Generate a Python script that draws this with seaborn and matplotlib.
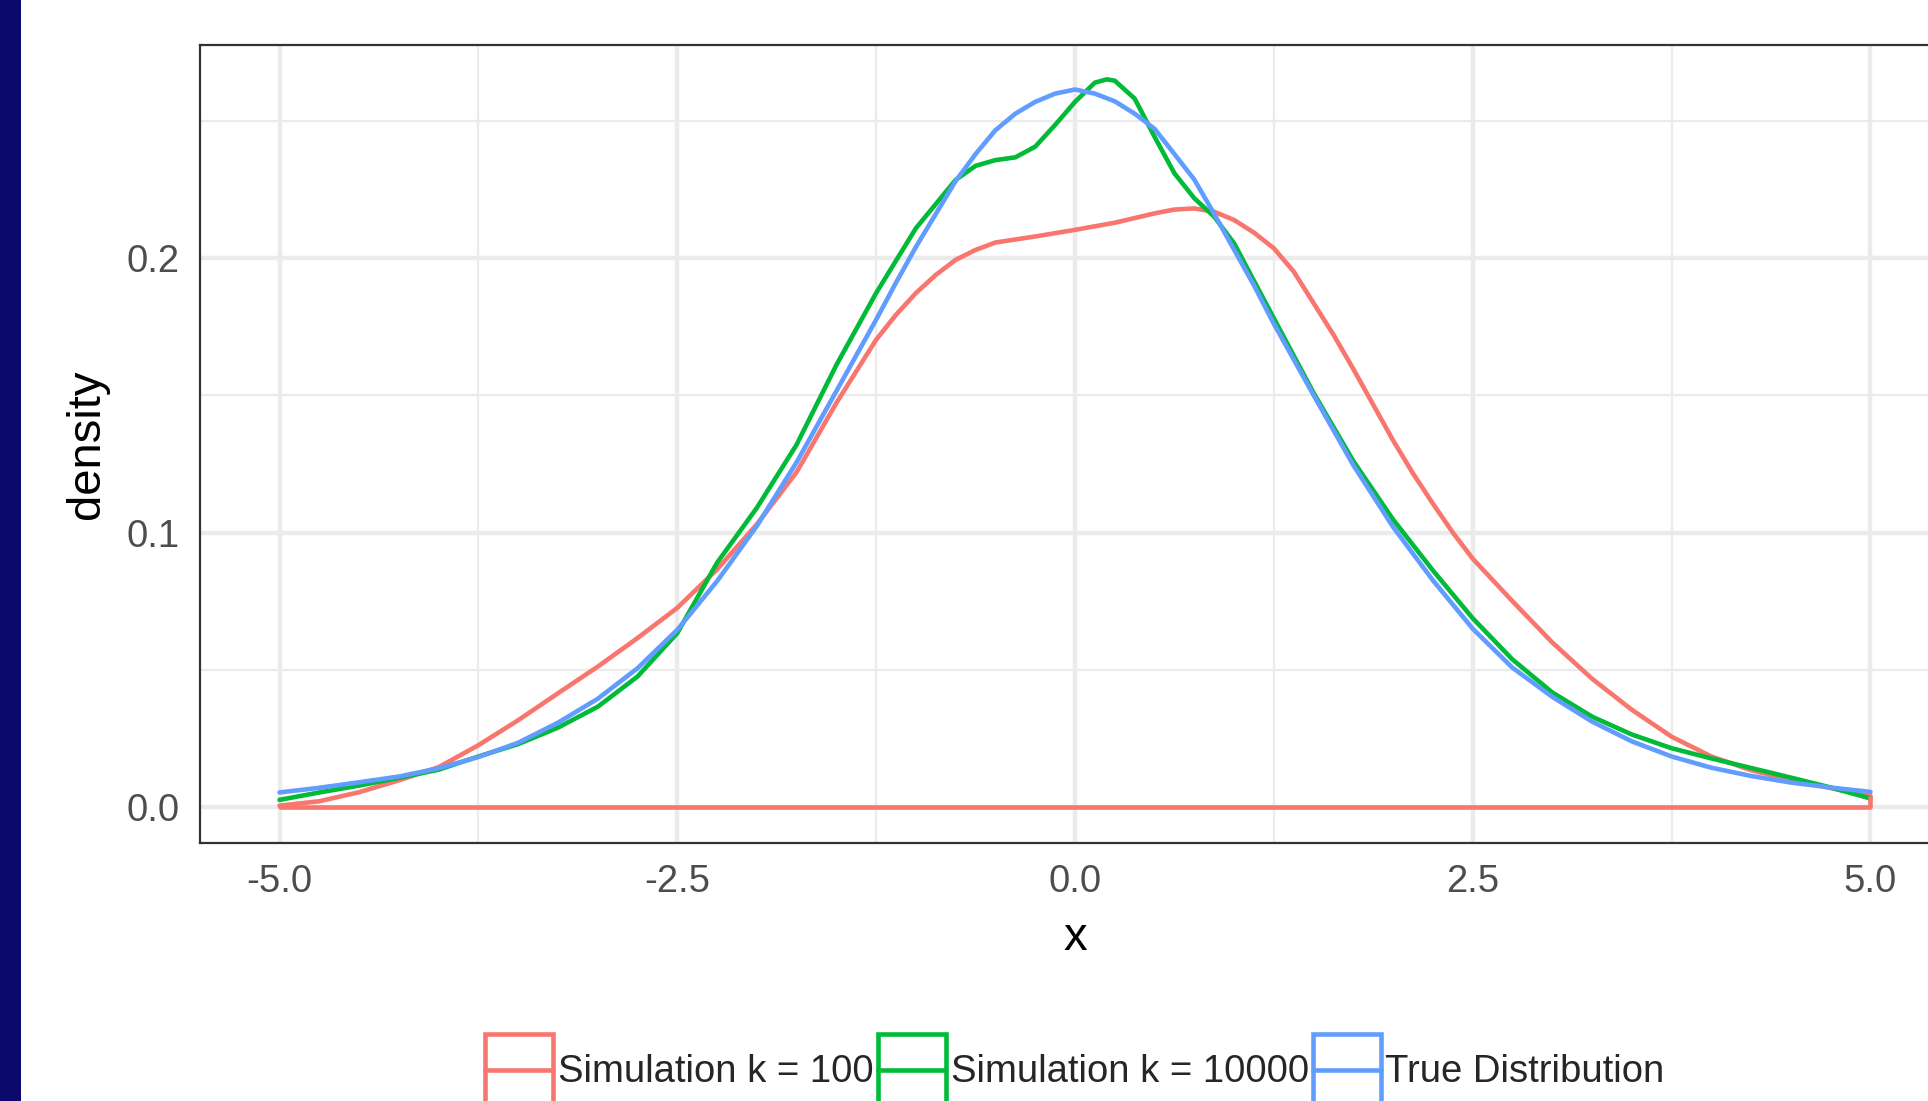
import pandas as pd
import matplotlib.pyplot as plt
import matplotlib.patches as mpatches
from matplotlib.lines import Line2D
from matplotlib.legend_handler import HandlerBase
import seaborn as sns

sns.set_style('white')
plt.rcParams['font.family'] = ['Liberation Sans', 'DejaVu Sans']
plt.rcParams['axes.unicode_minus'] = False

# density curves
x_k100 = [-5.0, -4.75, -4.5, -4.25, -4.0, -3.75, -3.5, -3.25, -3.0, -2.75, -2.5, -2.25,
          -2.0, -1.75, -1.5, -1.25, -1.125, -1.0, -0.875, -0.75, -0.625, -0.5, -0.25,
          0.0, 0.25, 0.5, 0.625, 0.75, 0.875, 1.0, 1.125, 1.25, 1.375, 1.5, 1.625, 1.75,
          1.875, 2.0, 2.125, 2.25, 2.375, 2.5, 2.75, 3.0, 3.25, 3.5, 3.75, 4.0, 4.25,
          4.5, 4.75, 5.0]
y_k100 = [0.0006, 0.0022, 0.0055, 0.0098, 0.0146, 0.0226, 0.0317, 0.0415, 0.0512, 0.0616,
          0.0726, 0.0866, 0.1030, 0.1220, 0.1472, 0.1702, 0.1793, 0.1872, 0.1938, 0.1993,
          0.2029, 0.2056, 0.2078, 0.2102, 0.2128, 0.2162, 0.2176, 0.2180, 0.2168, 0.2138,
          0.2092, 0.2035, 0.1950, 0.1835, 0.1720, 0.1595, 0.1465, 0.1335, 0.1215, 0.1105,
          0.1000, 0.0905, 0.0750, 0.0600, 0.0468, 0.0355, 0.0257, 0.0185, 0.0135, 0.0100,
          0.0070, 0.0041]

x_k10000 = [-5.0, -4.75, -4.5, -4.25, -4.0, -3.75, -3.5, -3.25, -3.0, -2.75, -2.5, -2.25,
            -2.0, -1.75, -1.5, -1.25, -1.0, -0.75, -0.625, -0.5, -0.375, -0.25, -0.125,
            0.0, 0.125, 0.2, 0.25, 0.375, 0.5, 0.625, 0.75, 0.875, 1.0, 1.25, 1.5, 1.75,
            2.0, 2.25, 2.5, 2.75, 3.0, 3.25, 3.5, 3.75, 4.0, 4.25, 4.5, 4.75, 5.0]
y_k10000 = [0.0027, 0.0054, 0.0079, 0.0107, 0.0137, 0.0185, 0.0230, 0.0290, 0.0366, 0.0476,
            0.0634, 0.0890, 0.1090, 0.1320, 0.1610, 0.1872, 0.2108, 0.2284, 0.2335, 0.2356,
            0.2366, 0.2405, 0.2484, 0.2568, 0.2638, 0.2650, 0.2645, 0.2580, 0.2441, 0.2308,
            0.2217, 0.2150, 0.2053, 0.1780, 0.1508, 0.1260, 0.1047, 0.0862, 0.0688, 0.0538,
            0.0418, 0.0330, 0.0265, 0.0215, 0.0178, 0.0143, 0.0108, 0.0072, 0.0032]

x_true = [-5.0, -4.75, -4.5, -4.25, -4.0, -3.75, -3.5, -3.25, -3.0, -2.75, -2.5, -2.25,
          -2.0, -1.75, -1.5, -1.25, -1.125, -1.0, -0.875, -0.75, -0.625, -0.5, -0.375,
          -0.25, -0.125, 0.0, 0.125, 0.25, 0.375, 0.5, 0.625, 0.75, 0.875, 1.0, 1.125,
          1.25, 1.5, 1.75, 2.0, 2.25, 2.5, 2.75, 3.0, 3.25, 3.5, 3.75,
          4.0, 4.25, 4.5, 4.75, 5.0]
y_true = [0.0054, 0.0071, 0.0091, 0.0112, 0.0142, 0.0183, 0.0235, 0.0308, 0.0395, 0.0506,
          0.0646, 0.0823, 0.1024, 0.1256, 0.1515, 0.1775, 0.1910, 0.2040, 0.2160, 0.2280,
          0.2378, 0.2465, 0.2525, 0.2568, 0.2598, 0.2613, 0.2598, 0.2570, 0.2525, 0.2470,
          0.2378, 0.2285, 0.2160, 0.2030, 0.1900, 0.1760, 0.1500, 0.1245, 0.1020, 0.0826,
          0.0650, 0.0508, 0.0402, 0.0312, 0.0240, 0.0185, 0.0144, 0.0114, 0.0090, 0.0072,
          0.0056]

series = ['Simulation k = 100', 'Simulation k = 10000', 'True Distribution']
colors = ['#F8766D', '#00BA38', '#619CFF']
palette = dict(zip(series, colors))

df = pd.concat([
    pd.DataFrame({'x': x_k100, 'density': y_k100, 'series': series[0]}),
    pd.DataFrame({'x': x_k10000, 'density': y_k10000, 'series': series[1]}),
    pd.DataFrame({'x': x_true, 'density': y_true, 'series': series[2]}),
])

W, H = 1928, 1101
fig = plt.figure(figsize=(W / 100, H / 100), dpi=100)
ax = fig.add_axes([200 / W, (H - 843) / H, 1750 / W, (843 - 45) / H])

lw = 3.3
sns.lineplot(data=df, x='x', y='density', hue='series', palette=palette,
             hue_order=series, linewidth=lw, ax=ax, legend=False,
             estimator=None, sort=False)
for ln in ax.lines:
    ln.set_solid_joinstyle('round')

# k = 100 density outline closes along the baseline
red = df[df['series'] == series[0]]
xs = red['x'].tolist()
ys = red['density'].tolist()
ax.plot([xs[0], xs[0], xs[-1], xs[-1]], [ys[0], 0, 0, ys[-1]],
        color=colors[0], lw=lw, solid_capstyle='butt', zorder=3)

ax.set_xlim(-5.5, 5.5)
ax.set_ylim(-0.0130, 0.2775)
ax.set_xticks([-5.0, -2.5, 0.0, 2.5, 5.0])
ax.set_xticklabels(['-5.0', '-2.5', '0.0', '2.5', '5.0'])
ax.set_xticks([-3.75, -1.25, 1.25, 3.75], minor=True)
ax.set_yticks([0.0, 0.1, 0.2])
ax.set_yticklabels(['0.0', '0.1', '0.2'])
ax.set_yticks([0.05, 0.15, 0.25], minor=True)

ax.set_axisbelow(True)
ax.grid(which='major', color='#ebebeb', lw=3.2)
ax.grid(which='minor', color='#ebebeb', lw=1.6)
for sp in ax.spines.values():
    sp.set_color('#333333')
    sp.set_linewidth(1.6)

ax.tick_params(which='major', length=9, width=2.2, color='#333333',
               labelsize=27.5, labelcolor='#4d4d4d', pad=6)
ax.tick_params(which='minor', length=0)
ax.set_xlabel('x', fontsize=34, color='black', labelpad=12)
ax.set_ylabel('density', fontsize=34, color='black', labelpad=12)


class BoxLineHandler(HandlerBase):
    # ggplot-style density key: outlined box with a line through the middle
    def create_artists(self, legend, orig_handle, xdescent, ydescent,
                       width, height, fontsize, trans):
        c = orig_handle.get_color()
        cy = -ydescent + height / 2
        bh = 1.86 * fontsize
        box = mpatches.Rectangle((-xdescent, cy - bh / 2), width, bh, facecolor='white',
                                 edgecolor=c, linewidth=lw, transform=trans)
        line = Line2D([-xdescent, -xdescent + width], [cy, cy], color=c,
                      linewidth=lw, transform=trans)
        return [box, line]


handles = [Line2D([], [], color=c) for c in colors]
fig.legend(handles, series, loc='center', ncol=3,
           bbox_to_anchor=(1075 / W, (H - 1070) / H), bbox_transform=fig.transFigure,
           frameon=False, fontsize=27.5, handlelength=1.78, handleheight=1.88,
           handletextpad=0.13, columnspacing=0.1, borderpad=0, borderaxespad=0,
           handler_map={Line2D: BoxLineHandler()})

fig.add_artist(mpatches.Rectangle((0, 0), 21 / W, 1, transform=fig.transFigure,
                                  facecolor='#0b0a6c', edgecolor='none', zorder=10))

fig.savefig('out.png', dpi=100)
plt.close(fig)
